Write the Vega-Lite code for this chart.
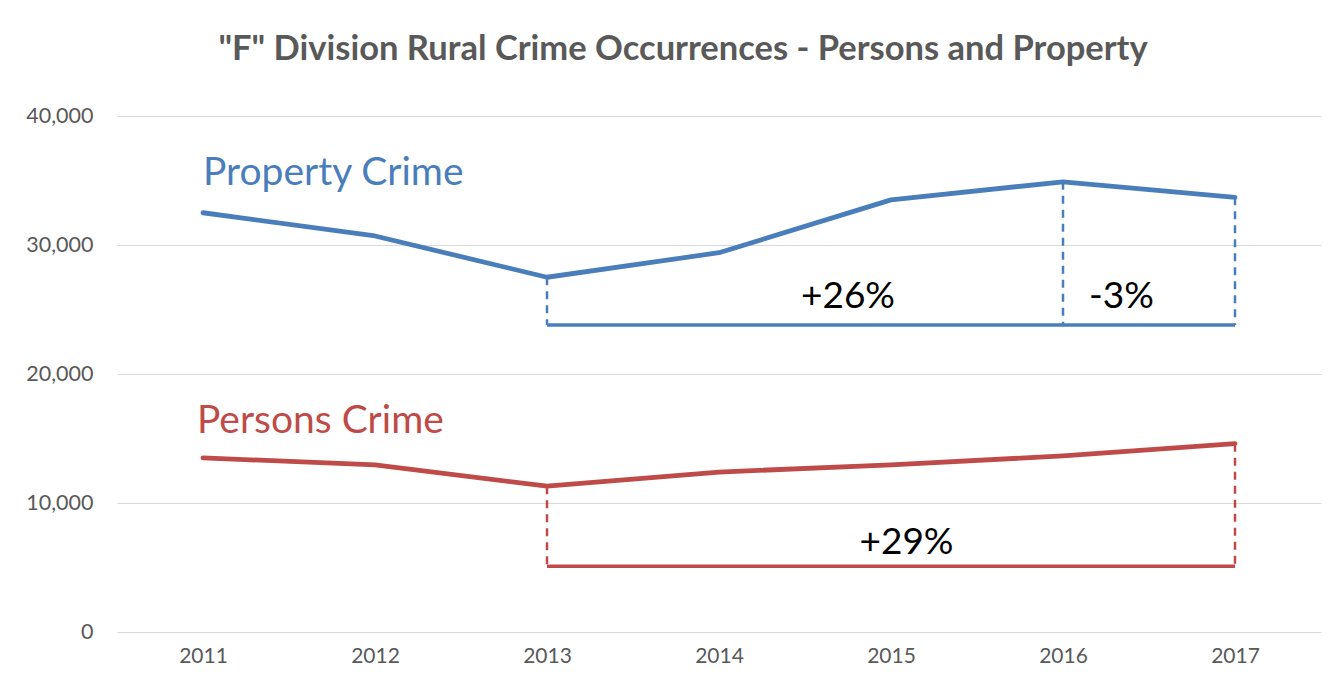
{
  "$schema": "https://vega.github.io/schema/vega-lite/v6.json",
  "width": 1204,
  "height": 516,
  "autosize": "none",
  "padding": {"left": 117, "top": 116, "right": 19, "bottom": 58},
  "background": "white",
  "title": {
    "text": "\"F\" Division Rural Crime Occurrences - Persons and Property",
    "font": "Lato",
    "fontSize": 34.5,
    "fontWeight": "bold",
    "color": "#595959",
    "anchor": "middle",
    "dx": -36,
    "offset": 38
  },
  "config": {
    "view": {"stroke": null},
    "font": "Lato"
  },
  "datasets": {
    "series": [
      {"year": 2011, "value": 32500, "series": "Property"},
      {"year": 2012, "value": 30700, "series": "Property"},
      {"year": 2013, "value": 27500, "series": "Property"},
      {"year": 2014, "value": 29400, "series": "Property"},
      {"year": 2015, "value": 33500, "series": "Property"},
      {"year": 2016, "value": 34900, "series": "Property"},
      {"year": 2017, "value": 33700, "series": "Property"},
      {"year": 2011, "value": 13500, "series": "Persons"},
      {"year": 2012, "value": 12950, "series": "Persons"},
      {"year": 2013, "value": 11300, "series": "Persons"},
      {"year": 2014, "value": 12400, "series": "Persons"},
      {"year": 2015, "value": 12950, "series": "Persons"},
      {"year": 2016, "value": 13650, "series": "Persons"},
      {"year": 2017, "value": 14600, "series": "Persons"}
    ],
    "brackets": [
      {"x": 2013, "x2": 2017, "y": 23800, "y2": 23800, "series": "Property", "kind": "base"},
      {"x": 2013, "x2": 2013, "y": 27500, "y2": 23800, "series": "Property", "kind": "drop"},
      {"x": 2016, "x2": 2016, "y": 34900, "y2": 23800, "series": "Property", "kind": "drop"},
      {"x": 2017, "x2": 2017, "y": 33700, "y2": 23800, "series": "Property", "kind": "drop"},
      {"x": 2013, "x2": 2017, "y": 5100, "y2": 5100, "series": "Persons", "kind": "base"},
      {"x": 2013, "x2": 2013, "y": 11300, "y2": 5100, "series": "Persons", "kind": "drop"},
      {"x": 2017, "x2": 2017, "y": 14600, "y2": 5100, "series": "Persons", "kind": "drop"}
    ],
    "names": [
      {"x": 2011, "y": 35650, "series": "Property", "label": "Property Crime"},
      {"x": 2010.965, "y": 16450, "series": "Persons", "label": "Persons Crime"}
    ],
    "changes": [
      {"x": 2014.75, "y": 26000, "label": "+26%"},
      {"x": 2016.34, "y": 26000, "label": "-3%"},
      {"x": 2015.09, "y": 6900, "label": "+29%"}
    ]
  },
  "layer": [
    {
      "data": {"name": "series"},
      "mark": {"type": "line", "strokeWidth": 4.8, "strokeCap": "round", "strokeJoin": "round"},
      "encoding": {
        "x": {
          "field": "year", "type": "quantitative",
          "scale": {"domain": [2010.5, 2017.5], "nice": false, "zero": false},
          "axis": {
            "values": [2011, 2012, 2013, 2014, 2015, 2016, 2017],
            "format": "d", "title": null, "grid": false, "domain": false, "ticks": false,
            "labelFont": "Lato", "labelFontSize": 21, "labelColor": "#595959", "labelPadding": 13
          }
        },
        "y": {
          "field": "value", "type": "quantitative",
          "scale": {"domain": [0, 40000], "nice": false},
          "axis": {
            "values": [0, 10000, 20000, 30000, 40000],
            "format": ",d", "title": null, "domain": false, "ticks": false,
            "gridColor": "#d9d9d9", "gridWidth": 1.2,
            "labelFont": "Lato", "labelFontSize": 21.5, "labelColor": "#595959", "labelPadding": 24
          }
        },
        "color": {
          "field": "series", "type": "nominal",
          "scale": {"domain": ["Property", "Persons"], "range": ["#4a7ebb", "#be4b48"]},
          "legend": null
        },
        "detail": {"field": "series"}
      }
    },
    {
      "data": {"name": "brackets"},
      "mark": {"type": "rule"},
      "encoding": {
        "x": {"field": "x", "type": "quantitative"},
        "x2": {"field": "x2"},
        "y": {"field": "y", "type": "quantitative"},
        "y2": {"field": "y2"},
        "color": {"field": "series", "type": "nominal", "legend": null},
        "strokeDash": {
          "field": "kind", "type": "nominal",
          "scale": {"domain": ["base", "drop"], "range": [[1, 0], [8, 6]]},
          "legend": null
        },
        "strokeWidth": {
          "field": "kind", "type": "nominal",
          "scale": {"domain": ["base", "drop"], "range": [3.5, 2.5]},
          "legend": null
        }
      }
    },
    {
      "data": {"name": "names"},
      "mark": {"type": "text", "align": "left", "baseline": "middle", "font": "Lato", "fontSize": 39, "dy": 1},
      "encoding": {
        "x": {"field": "x", "type": "quantitative"},
        "y": {"field": "y", "type": "quantitative"},
        "text": {"field": "label"},
        "color": {"field": "series", "type": "nominal", "legend": null}
      }
    },
    {
      "data": {"name": "changes"},
      "mark": {"type": "text", "align": "center", "baseline": "middle", "font": "Lato", "fontSize": 37, "color": "#000000"},
      "encoding": {
        "x": {"field": "x", "type": "quantitative"},
        "y": {"field": "y", "type": "quantitative"},
        "text": {"field": "label"}
      }
    }
  ]
}
